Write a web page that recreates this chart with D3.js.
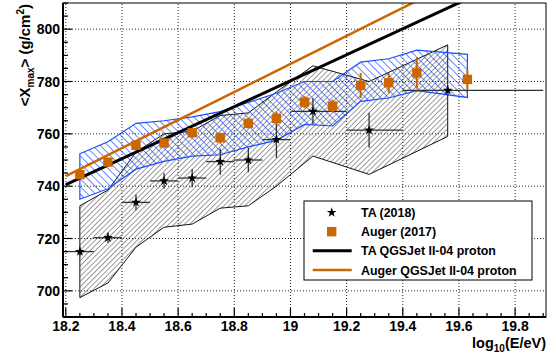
<!DOCTYPE html>
<html>
<head>
<meta charset="utf-8">
<script src="https://d3js.org/d3.v7.min.js"></script>
<style>
  body { margin: 0; background: #fff; }
  svg { font-family: 'Liberation Sans', Arial, sans-serif; font-weight: bold; }
</style>
</head>
<body>
<div id="chart"></div>
<script>
// TA (2018) points: log10(E), <Xmax>, stat err, x-bin edges
var taX    = [18.25, 18.35, 18.45, 18.55, 18.65, 18.75, 18.85, 18.95, 19.08, 19.28, 19.56];
var taY    = [715, 720.3, 733.8, 742, 743.1, 749.4, 750, 757.8, 768.6, 761.4, 776.6];
var taErr  = [2, 2, 3, 3, 3.5, 5, 4.7, 7, 5, 6.7, 2];
var taXlo  = [18.2, 18.3, 18.4, 18.5, 18.6, 18.7, 18.8, 18.9, 19.0, 19.2, 19.4];
var taXhi  = [18.3, 18.4, 18.5, 18.6, 18.7, 18.8, 18.9, 19.0, 19.2, 19.4, 19.9];
// TA systematic band edges
var taSysLo = [697.4, 703, 716.7, 724.3, 725.5, 731.6, 732.5, 740, 751.5, 744.5, 759];
var taSysHi = [732.5, 738.5, 753, 760, 761, 767, 768, 776, 786, 780, 794];

// Auger (2017) points
var augX   = [18.25, 18.35, 18.45, 18.55, 18.65, 18.75, 18.85, 18.95, 19.05, 19.15, 19.25, 19.35, 19.45, 19.63];
var augY   = [744.4, 749.2, 755.6, 756.5, 760.4, 758.5, 764, 765.9, 772.1, 770.6, 778.5, 779.5, 783.3, 780.8];
var augErr = [1, 1, 1.5, 1.5, 1.5, 2, 2, 2.5, 2.3, 2.5, 4.8, 3.8, 6, 3.6];
var augSysLo = [735, 739, 746.5, 749.5, 751.5, 752, 755, 757.5, 763.6, 763, 772.4, 773.7, 776.5, 773.9];
var augSysHi = [752.4, 757, 764, 765, 766.5, 768.5, 772, 775.5, 780, 780, 787.4, 788.7, 792, 790.4];

// QGSJet II-04 proton lines (straight, clipped at frame)
var taLineX = [18.2, 19.8];
var taLineY = [740.6, 820];
var augLineX = [18.2, 19.8];
var augLineY = [743.8, 829.6];

var xTicks = [18.2, 18.4, 18.6, 18.8, 19, 19.2, 19.4, 19.6, 19.8];
var yTicks = [700, 720, 740, 760, 780, 800];

var W = 556, H = 356;
var orange = "#cc6600", blue = "#1a4dff";

var svg = d3.select("#chart").append("svg").attr("width", W).attr("height", H);
var x = d3.scaleLinear().domain([18.19, 19.91]).range([63, 546]);
var y = d3.scaleLinear().domain([690, 810]).range([317, 3]);

var defs = svg.append("defs");
defs.append("clipPath").attr("id", "clip").append("rect")
  .attr("x", x.range()[0]).attr("y", y.range()[1])
  .attr("width", x.range()[1] - x.range()[0]).attr("height", y.range()[0] - y.range()[1]);

function hatch(id, angle, gap, col, sw) {
  var p = defs.append("pattern").attr("id", id).attr("patternUnits", "userSpaceOnUse")
    .attr("width", gap).attr("height", gap).attr("patternTransform", "rotate(" + angle + ")");
  p.append("line").attr("x1", 0).attr("y1", 0).attr("x2", 0).attr("y2", gap)
    .attr("stroke", col).attr("stroke-width", sw);
}
hatch("hGray", 45, 3.7, "#4a4a4a", 1.1);
hatch("hBlue", -45, 5.4, blue, 1.3);

// grid
var grid = svg.append("g");
grid.selectAll("line.gx").data(xTicks).join("line")
  .attr("x1", d => x(d)).attr("x2", d => x(d)).attr("y1", y.range()[0]).attr("y2", y.range()[1])
  .attr("stroke", "#222").attr("stroke-dasharray", "1,2");
grid.selectAll("line.gy").data(yTicks).join("line")
  .attr("y1", d => y(d)).attr("y2", d => y(d)).attr("x1", x.range()[0]).attr("x2", x.range()[1])
  .attr("stroke", "#222").attr("stroke-dasharray", "1,2");

var plot = svg.append("g").attr("clip-path", "url(#clip)");

function band(xs, lo, hi) {
  var pts = xs.map((v, i) => [x(v), y(hi[i])]);
  for (var i = xs.length - 1; i >= 0; i--) pts.push([x(xs[i]), y(lo[i])]);
  return d3.line()(pts) + "Z";
}
plot.append("path").attr("d", band(taX, taSysLo, taSysHi))
  .attr("fill", "url(#hGray)").attr("stroke", "#111").attr("stroke-width", 1);
plot.append("path").attr("d", band(augX, augSysLo, augSysHi))
  .attr("fill", "url(#hBlue)").attr("stroke", blue).attr("stroke-width", 1.2);

// model lines
plot.append("path").attr("d", d3.line()(taLineX.map((v, i) => [x(v), y(taLineY[i])])))
  .attr("stroke", "#000").attr("stroke-width", 3).attr("fill", "none");
plot.append("path").attr("d", d3.line()(augLineX.map((v, i) => [x(v), y(augLineY[i])])))
  .attr("stroke", orange).attr("stroke-width", 2.5).attr("fill", "none");

// TA error bars and stars
var ta = plot.append("g");
taX.forEach(function(v, i) {
  ta.append("line").attr("x1", x(taXlo[i])).attr("x2", x(taXhi[i])).attr("y1", y(taY[i])).attr("y2", y(taY[i]))
    .attr("stroke", "#333").attr("stroke-width", 1.3);
  ta.append("line").attr("x1", x(v)).attr("x2", x(v)).attr("y1", y(taY[i] - taErr[i])).attr("y2", y(taY[i] + taErr[i]))
    .attr("stroke", "#333").attr("stroke-width", 1.3);
});
var star = d3.symbol(d3.symbolStar).size(30);
ta.selectAll("path.star").data(taX).join("path")
  .attr("d", star).attr("transform", (d, i) => "translate(" + x(d) + "," + y(taY[i]) + ")").attr("fill", "#000");

// Auger points
var au = plot.append("g");
augX.forEach(function(v, i) {
  au.append("line").attr("x1", x(v)).attr("x2", x(v)).attr("y1", y(augY[i] - augErr[i])).attr("y2", y(augY[i] + augErr[i]))
    .attr("stroke", orange).attr("stroke-width", 2);
});
au.selectAll("rect").data(augX).join("rect")
  .attr("x", d => x(d) - 4.7).attr("y", (d, i) => y(augY[i]) - 4.7).attr("width", 9.4).attr("height", 9.4)
  .attr("fill", orange);

// frame
svg.append("rect").attr("x", x.range()[0]).attr("y", y.range()[1])
  .attr("width", x.range()[1] - x.range()[0]).attr("height", y.range()[0] - y.range()[1])
  .attr("fill", "none").attr("stroke", "#000").attr("stroke-width", 1);
svg.append("line").attr("x1", 63).attr("x2", 63).attr("y1", 3).attr("y2", 317).attr("stroke", "#000").attr("stroke-width", 2);
svg.append("line").attr("x1", 63).attr("x2", 546).attr("y1", 317).attr("y2", 317).attr("stroke", "#000").attr("stroke-width", 2);

// ticks
var xMinor = d3.range(18.2, 19.91, 0.05);
svg.selectAll("line.xt").data(xMinor).join("line")
  .attr("x1", d => x(d)).attr("x2", d => x(d)).attr("y1", 317)
  .attr("y2", d => Math.abs(d * 5 - Math.round(d * 5)) < 1e-6 ? 308 : 313)
  .attr("stroke", "#000").attr("stroke-width", 1.2);
var yMinor = d3.range(690, 811, 5);
svg.selectAll("line.yt").data(yMinor).join("line")
  .attr("y1", d => y(d)).attr("y2", d => y(d)).attr("x1", 63)
  .attr("x2", d => d % 20 === 0 ? 72 : 68)
  .attr("stroke", "#000").attr("stroke-width", 1.2);

svg.selectAll("text.xl").data(xTicks).join("text")
  .attr("x", d => x(d)).attr("y", 331).attr("text-anchor", "middle").attr("font-size", 14)
  .text(d => d);
svg.selectAll("text.yl").data(yTicks).join("text")
  .attr("x", 60).attr("y", d => y(d) + 5).attr("text-anchor", "end").attr("font-size", 14)
  .text(d => d);

// axis titles
var yt = svg.append("text").attr("transform", "translate(30,4) rotate(-90)")
  .attr("text-anchor", "end").attr("font-size", 15);
yt.append("tspan").text("<X");
yt.append("tspan").attr("font-size", 10).attr("dy", 4).text("max");
yt.append("tspan").attr("dy", -4).text("> (g/cm");
yt.append("tspan").attr("font-size", 10).attr("dy", -6).text("2");
yt.append("tspan").attr("dy", 6).text(")");

var xt = svg.append("text").attr("x", 546).attr("y", 348).attr("text-anchor", "end").attr("font-size", 14.5);
xt.append("tspan").text("log");
xt.append("tspan").attr("font-size", 10).attr("dy", 4).text("10");
xt.append("tspan").attr("dy", -4).text("(E/eV)");

// legend
var lg = svg.append("g");
lg.append("rect").attr("x", 304).attr("y", 201).attr("width", 228).attr("height", 79)
  .attr("fill", "#fff").attr("stroke", "#000").attr("stroke-width", 1);
var legNames = ["TA (2018)", "Auger (2017)", "TA QGSJet II-04 proton", "Auger QGSJet II-04 proton"];
var legY = d3.scaleLinear().domain([0, 3]).range([212.5, 270]);
lg.selectAll("text").data(legNames).join("text")
  .attr("x", 361).attr("y", (d, i) => legY(i) + 4.5).attr("font-size", 12.4).text(d => d);
lg.append("path").attr("d", star).attr("transform", "translate(331.7," + legY(0) + ")").attr("fill", "#000");
lg.append("rect").attr("x", 331.7 - 4.7).attr("y", legY(1) - 4.7).attr("width", 9.4).attr("height", 9.4).attr("fill", orange);
lg.append("line").attr("x1", 312.7).attr("x2", 351.7).attr("y1", legY(2)).attr("y2", legY(2)).attr("stroke", "#000").attr("stroke-width", 3);
lg.append("line").attr("x1", 312.7).attr("x2", 351.7).attr("y1", legY(3)).attr("y2", legY(3)).attr("stroke", orange).attr("stroke-width", 2.5);
</script>
</body>
</html>
